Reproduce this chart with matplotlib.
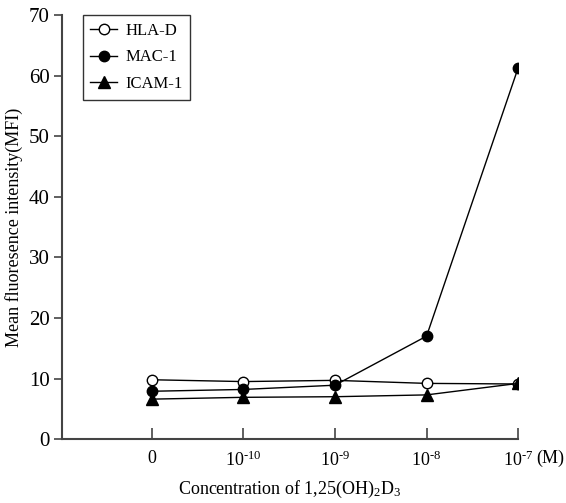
import numpy as np
import matplotlib.pyplot as plt

plt.rcParams['font.family'] = 'Liberation Serif'
plt.rcParams['mathtext.fontset'] = 'custom'
plt.rcParams['mathtext.rm'] = 'Liberation Serif'
plt.rcParams['mathtext.it'] = 'Liberation Serif'

conc = ['0', r'10$^{\text{-10}}$', r'10$^{\text{-9}}$', r'10$^{\text{-8}}$', r'10$^{\text{-7}}$']
hla_d = [9.8, 9.5, 9.7, 9.2, 9.1]
mac_1 = [7.9, 8.2, 8.9, 17.0, 61.3]
icam_1 = [6.6, 6.9, 7.0, 7.3, 9.2]

x = np.arange(len(conc))

fig = plt.figure(figsize=(5.66, 5.03), dpi=100)
ax = fig.add_axes([0.1095, 0.127, 0.806, 0.843])

ax.plot(x, hla_d, '-o', color='black', mfc='white', mec='black', ms=7.5, lw=1, label='HLA-D', zorder=3)
ax.plot(x, mac_1, '-o', color='black', ms=7.5, lw=1, label='MAC-1', zorder=3)
ax.plot(x, icam_1, '-^', color='black', ms=8.5, lw=1, label='ICAM-1', zorder=3)

ax.set_xlim(-0.98, 4)
ax.set_ylim(0, 70)
ax.set_yticks(range(0, 71, 10))
ax.set_xticks(x)
ax.set_xticklabels(conc, fontsize=13)
ax.tick_params(axis='y', direction='out', labelsize=15, length=6, width=1.2, color='#444444', pad=3)
ax.tick_params(axis='x', direction='in', length=8, width=1.2, color='#444444', pad=8)

for s in ['top', 'right']:
    ax.spines[s].set_visible(False)
for s in ['left', 'bottom']:
    ax.spines[s].set_linewidth(1.5)
    ax.spines[s].set_color('#444444')

# unit label to the right of the last tick
ax.text(4.2, -3.2, '(M)', ha='left', va='center', fontsize=13)

ax.set_xlabel(r'Concentration of 1,25(OH)$_{\text{2}}$D$_{\text{3}}$', fontsize=13, labelpad=7)
ax.set_ylabel('Mean fluoresence intensity(MFI)', fontsize=13, labelpad=4)

leg = ax.legend(loc='upper left', bbox_to_anchor=(0.046, 1.0), borderaxespad=0, fontsize=12,
                frameon=True, fancybox=False, edgecolor='black', handlelength=1.6,
                handletextpad=0.5, labelspacing=0.65, borderpad=0.45)
leg.get_frame().set_linewidth(1.0)

fig.savefig('out.png', dpi=100)
